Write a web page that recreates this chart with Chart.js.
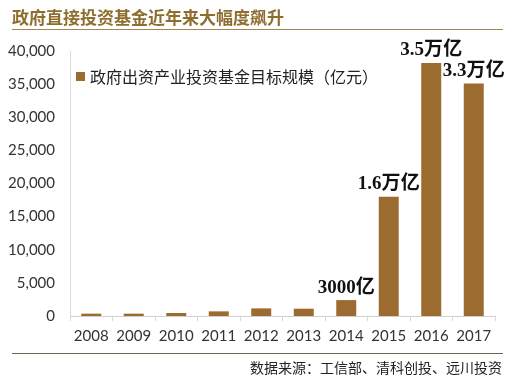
<!DOCTYPE html>
<html>
<head>
<meta charset="utf-8">
<script src="https://cdn.jsdelivr.net/npm/chart.js@4/dist/chart.umd.min.js"></script>
<style>
  html, body { margin: 0; padding: 0; background: #ffffff; }
  #wrap { position: relative; width: 520px; height: 380px; overflow: hidden; }
  #c { position: absolute; left: 0; top: 0; }
  #title { position: absolute; left: 12px; top: 4px; font: bold 17px "Noto Sans CJK SC", sans-serif; color: #8d6e2f; letter-spacing: 0px; white-space: nowrap; }
  #titleLine { position: absolute; left: 12px; top: 29px; width: 491px; height: 0; border-top: 1.5px solid #a08553; }
  #bottomLine { position: absolute; left: 12px; top: 353px; width: 491px; height: 0; border-top: 1.5px solid #6f6352; }
  #source { position: absolute; right: 18px; top: 357px; font: 14px "Noto Sans CJK SC", sans-serif; color: #222; white-space: nowrap; }
  #legend { position: absolute; left: 76px; top: 64px; font: 16px "Noto Sans CJK SC", sans-serif; color: #222; white-space: nowrap; display: flex; align-items: center; }
  #legend .sw { width: 9px; height: 9px; margin-right: 5px; display: inline-block; }
</style>
</head>
<body>
<div id="wrap">
  <canvas id="c" width="520" height="380"></canvas>
  <div id="title"></div>
  <div id="titleLine"></div>
  <div id="legend"></div>
  <div id="bottomLine"></div>
  <div id="source"></div>
</div>
<script>
const titleText = "政府直接投资基金近年来大幅度飙升";
const sourceText = "数据来源：工信部、清科创投、远川投资";
const seriesLabel = "政府出资产业投资基金目标规模（亿元）";
const years = ["2008", "2009", "2010", "2011", "2012", "2013", "2014", "2015", "2016", "2017"];
const fundScale = [350, 350, 450, 700, 1150, 1100, 2400, 18000, 38200, 35100];
const yTicks = [0, 5000, 10000, 15000, 20000, 25000, 30000, 35000, 40000];
const annotationIndex = [6, 7, 8, 9];
const annotationText = ["3000亿", "1.6万亿", "3.5万亿", "3.3万亿"];

const barColor = "#9b6b30";

document.getElementById("title").textContent = titleText;
document.getElementById("source").textContent = sourceText;
const lg = document.getElementById("legend");
const sw = document.createElement("span"); sw.className = "sw"; sw.style.background = barColor;
const lt = document.createElement("span"); lt.textContent = seriesLabel;
lg.appendChild(sw); lg.appendChild(lt);

const annotPlugin = {
  id: "annot",
  afterDatasetsDraw(chart) {
    const ctx = chart.ctx;
    const meta = chart.getDatasetMeta(0);
    ctx.save();
    ctx.font = 'bold 19px "Liberation Serif", "Noto Sans CJK SC", serif';
    ctx.fillStyle = "#111";
    ctx.textAlign = "center";
    ctx.textBaseline = "bottom";
    annotationIndex.forEach((idx, k) => {
      const el = meta.data[idx];
      ctx.fillText(annotationText[k], el.x, el.y - 3);
    });
    ctx.restore();
  }
};

new Chart(document.getElementById("c"), {
  type: "bar",
  data: {
    labels: years,
    datasets: [{
      label: seriesLabel,
      data: fundScale,
      backgroundColor: barColor,
      borderWidth: 0,
      barPercentage: 0.47,
      categoryPercentage: 1.0
    }]
  },
  options: {
    responsive: false,
    animation: false,
    devicePixelRatio: 1,
    layout: { padding: { left: 0, right: 25, top: 51, bottom: 28 } },
    plugins: { legend: { display: false }, tooltip: { enabled: false } },
    scales: {
      x: {
        offset: true,
        grid: { display: true, offset: true, drawOnChartArea: false, drawTicks: true, tickLength: 5, color: "#d9d9d9" },
        border: { display: true, color: "#d0d0d0", width: 1 },
        ticks: { color: "#333", font: { family: "Lato", size: 15 }, padding: 6, maxRotation: 0 },
        afterFit(s) { s.height = 36; }
      },
      y: {
        min: 0, max: 40000,
        afterBuildTicks(s) { s.ticks = yTicks.map(v => ({ value: v })); },
        grid: { display: false, drawTicks: false },
        border: { display: true, color: "#d9d9d9", width: 1 },
        ticks: { color: "#333", font: { family: "Lato", size: 15 }, padding: 15,
                 callback: v => Number(v).toLocaleString("en-US") },
        afterFit(s) { s.width = 70; }
      }
    }
  },
  plugins: [annotPlugin]
});
</script>
</body>
</html>
